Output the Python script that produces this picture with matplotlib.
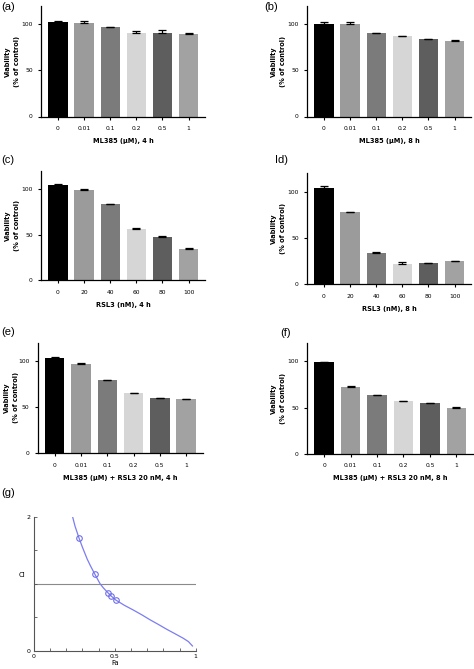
import numpy as np
import matplotlib
matplotlib.use('Agg')
import matplotlib.pyplot as plt

# wide-ish font to get closer to the letter-spaced labels of the original
plt.rcParams['font.family'] = ['DejaVu Sans']

W, H = 474, 669

# bar colours (same order in every panel)
bar_colors = ['#000000', '#9b9b9b', '#7b7b7b', '#d6d6d6', '#5e5e5e', '#a2a2a2']

ml385_ticks = ['0', '0.01', '0.1', '0.2', '0.5', '1']
rsl3_ticks = ['0', '20', '40', '60', '80', '100']

# panel (a)  ML385 4 h
a_vals = [102.2, 101.1, 96.7, 90.6, 90.4, 89.9]
a_err = [1.8, 2.2, 1.0, 2.2, 3.0, 0.4]
# panel (b)  ML385 8 h
b_vals = [100.7, 100.4, 90.2, 87.0, 84.0, 82.0]
b_err = [1.4, 2.5, 0.5, 0.7, 0.5, 0.7]
# panel (c)  RSL3 4 h
c_vals = [105.1, 98.9, 83.2, 56.0, 47.6, 34.4]
c_err = [0.5, 1.0, 0.7, 1.0, 1.0, 1.0]
# panel (d)  RSL3 8 h
d_vals = [103.6, 77.6, 33.6, 22.0, 22.7, 24.5]
d_err = [2.0, 0.7, 0.7, 2.0, 0.5, 0.7]
# panel (e)  ML385 + RSL3 20 nM 4 h
e_vals = [103.6, 96.7, 79.0, 65.2, 59.4, 58.3]
e_err = [0.3, 0.7, 0.4, 0.4, 0.4, 0.4]
# panel (f)  ML385 + RSL3 20 nM 8 h
f_vals = [99.6, 72.6, 63.5, 56.7, 54.5, 49.8]
f_err = [0.3, 0.7, 0.5, 0.4, 0.5, 0.5]

# panel (g)  combination index curve
g_curve_fa = [0.24, 0.255, 0.28, 0.30, 0.33, 0.35, 0.376, 0.41, 0.43, 0.457, 0.48, 0.506,
              0.56, 0.615, 0.67, 0.718, 0.77, 0.82, 0.87, 0.923, 0.955, 0.98]
g_curve_ci = [2.0, 1.86, 1.68, 1.55, 1.37, 1.27, 1.15, 1.0, 0.94, 0.87, 0.815, 0.76,
              0.68, 0.61, 0.535, 0.465, 0.395, 0.325, 0.26, 0.19, 0.14, 0.075]
g_pts_fa = [0.28, 0.376, 0.457, 0.475, 0.506]
g_pts_ci = [1.68, 1.15, 0.87, 0.825, 0.76]


def px_axes(left, top, right, bottom):
    return fig.add_axes([left / W, 1 - bottom / H, (right - left) / W, (bottom - top) / H])


def bar_panel(ax, vals, err, ticks, xlabel, label_px):
    x = np.arange(len(vals))
    ax.bar(x, vals, width=0.74, color=bar_colors, edgecolor='none', zorder=2)
    ax.errorbar(x, vals, yerr=[np.zeros(len(err)), err], fmt='none', ecolor='black',
                elinewidth=0.9, capsize=2.6, capthick=0.9, zorder=3)
    ax.set_xlim(-0.65, len(vals) - 1 + 0.63)
    ax.set_ylim(0, 120)
    ax.set_yticks([0, 50, 100])
    ax.set_xticks(x)
    ax.set_xticklabels(ticks)
    for s in ['top', 'right']:
        ax.spines[s].set_visible(False)
    for s in ['left', 'bottom']:
        ax.spines[s].set_linewidth(0.9)
    ax.tick_params(axis='both', labelsize=4.3, width=0.8, length=2.5, pad=3.5)
    ax.tick_params(axis='x', pad=4.5)
    ax.set_xlabel(xlabel, fontsize=4.8, fontweight='bold', labelpad=5)
    ax.set_ylabel('Viability\n(% of control)', fontsize=4.8, fontweight='bold', linespacing=1.6)
    width_px = ax.get_position().width * W
    ax.yaxis.set_label_coords(-label_px / width_px, 0.5)


fig = plt.figure(figsize=(W / 100, H / 100), dpi=100)

ax = px_axes(41, 6, 205, 116.5)
bar_panel(ax, a_vals, a_err, ml385_ticks, 'ML385 (μM), 4 h', 21)
ax = px_axes(307, 6, 471, 116.5)
bar_panel(ax, b_vals, b_err, ml385_ticks, 'ML385 (μM), 8 h', 21)
ax = px_axes(41, 171, 205, 280)
bar_panel(ax, c_vals, c_err, rsl3_ticks, 'RSL3 (nM), 4 h', 21)
ax = px_axes(307, 173, 471, 284)
bar_panel(ax, d_vals, d_err, rsl3_ticks, 'RSL3 (nM), 8 h', 21)
ax = px_axes(37.7, 342.5, 202.7, 453)
bar_panel(ax, e_vals, e_err, ml385_ticks, 'ML385 (μM) + RSL3 20 nM, 4 h', 19)
ax = px_axes(307, 343, 473, 453.7)
bar_panel(ax, f_vals, f_err, ml385_ticks, 'ML385 (μM) + RSL3 20 nM, 8 h', 21)

# panel (g)
ax = px_axes(33.7, 516.7, 195.7, 651)
ax.plot(g_curve_fa, g_curve_ci, color='#7c7cf2', lw=0.9, zorder=2)
ax.plot(g_pts_fa, g_pts_ci, 'o', mfc='none', mec='#6f6fe8', ms=4, mew=0.8, zorder=3)
ax.axhline(1, xmin=0, xmax=1, color='#8a8a8a', lw=0.8, zorder=1)
ax.set_xlim(0, 1)
ax.set_ylim(0, 2)
ax.set_xticks(np.arange(0, 1.01, 0.1), minor=True)
ax.set_xticks([0, 0.5, 1])
ax.set_xticklabels(['0', '0.5', '1'])
ax.set_yticks([0, 0.5, 1, 1.5, 2], minor=True)
ax.set_yticks([0, 2])
ax.set_yticklabels(['0', '2'])
for s in ['top', 'right']:
    ax.spines[s].set_visible(False)
for s in ['left', 'bottom']:
    ax.spines[s].set_color('#555555')
    ax.spines[s].set_linewidth(0.8)
ax.tick_params(axis='both', which='both', direction='in', length=2, width=0.6,
               color='#555555', labelsize=4.5, pad=2.5)
ax.set_xlabel('Fa', fontsize=5, labelpad=0.5)
ax.set_ylabel('CI', fontsize=5, rotation=0)
ax.yaxis.set_label_coords(-0.075, 0.54)

# panel letters
for lbl, x, y in [('(a)', 1, 2), ('(b)', 264, 2), ('(c)', 1, 155), ('Id)', 275, 155),
                  ('(e)', 1, 327), ('(f)', 280, 328), ('(g)', 1, 488)]:
    fig.text(x / W, 1 - y / H, lbl, fontsize=8, va='top', ha='left', family='Liberation Sans')

fig.savefig('out.png', dpi=100)
